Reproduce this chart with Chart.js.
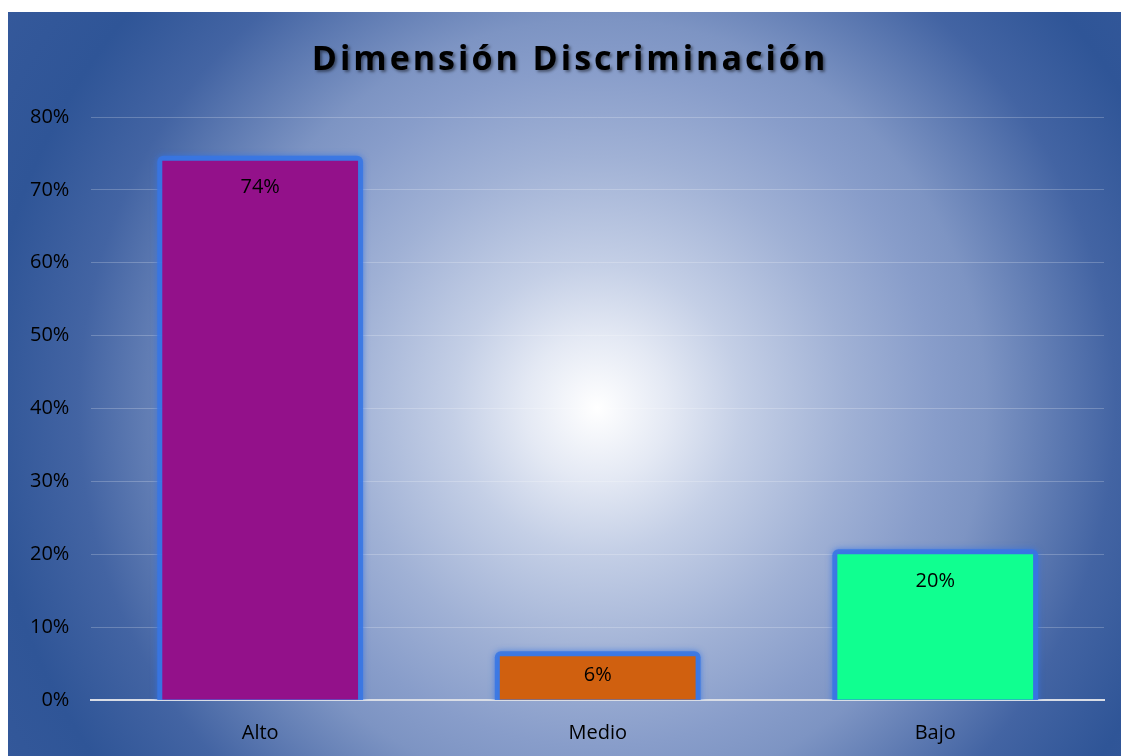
<!DOCTYPE html>
<html>
<head>
<meta charset="utf-8">
<script src="https://cdn.jsdelivr.net/npm/chart.js@4.4.1/dist/chart.umd.min.js"></script>
<style>
  html, body { margin: 0; padding: 0; background: #ffffff; }
  #wrap { position: absolute; left: 8px; top: 12px; width: 1113px; height: 744px; }
</style>
</head>
<body>
<div id="wrap"><canvas id="c" width="1113" height="744"></canvas></div>
<script>
const titleText = "Dimensión Discriminación";
const categories = ["Alto", "Medio", "Bajo"];
const values = [74, 6, 20];
const barColors = ["#93118A", "#D0600F", "#10FF90"];
const yTicks = [0, 10, 20, 30, 40, 50, 60, 70, 80];

const FONT = "'Open Sans', 'Noto Sans', sans-serif";

const bgPlugin = {
  id: 'bg',
  beforeDraw(chart) {
    const ctx = chart.ctx;
    const w = chart.width, h = chart.height;
    const cx = 589, cy = 396, R = 720;
    const g = ctx.createRadialGradient(cx, cy, 0, cx, cy, R);
    g.addColorStop(0.00, '#ffffff');
    g.addColorStop(0.10, '#e4e9f4');
    g.addColorStop(0.20, '#c4cfe6');
    g.addColorStop(0.35, '#a0b1d5');
    g.addColorStop(0.47, '#889dca');
    g.addColorStop(0.54, '#7d94c3');
    g.addColorStop(0.72, '#4364a3');
    g.addColorStop(0.85, '#2f5597');
    g.addColorStop(1.00, '#35599b');
    ctx.save();
    ctx.fillStyle = g;
    ctx.fillRect(0, 0, w, h);
    ctx.restore();
  }
};

const glowPlugin = {
  id: 'glow',
  beforeDatasetsDraw(chart) {
    const ctx = chart.ctx;
    const meta = chart.getDatasetMeta(0);
    const area = chart.chartArea;
    ctx.save();
    ctx.beginPath();
    ctx.rect(0, 0, chart.width, area.bottom);
    ctx.clip();
    meta.data.forEach(el => {
      const p = el.getProps(['x', 'y', 'base', 'width'], true);
      const e = 5;
      const left = p.x - p.width / 2 - e;
      const right = p.x + p.width / 2 + e;
      const top = p.y - e;
      ctx.shadowColor = 'rgba(50,115,230,0.9)';
      ctx.shadowBlur = 6;
      ctx.fillStyle = 'rgba(55,118,228,0.85)';
      ctx.beginPath();
      ctx.roundRect(left, top, right - left, p.base - top + 8, 6);
      ctx.fill();
    });
    ctx.restore();
  }
};

const labelPlugin = {
  id: 'vlabels',
  afterDatasetsDraw(chart) {
    const ctx = chart.ctx;
    const meta = chart.getDatasetMeta(0);
    ctx.save();
    ctx.font = '20px ' + FONT;
    ctx.fillStyle = '#000000';
    ctx.textAlign = 'center';
    ctx.textBaseline = 'middle';
    meta.data.forEach((el, i) => {
      const p = el.getProps(['x', 'y', 'base'], true);
      const hgt = p.base - p.y;
      const off = Math.min(27, hgt / 2 - 3);
      ctx.fillText(values[i] + '%', p.x, p.y + off);
    });
    ctx.restore();
  }
};

const titlePlugin = {
  id: 'ttl',
  afterDraw(chart) {
    const ctx = chart.ctx;
    ctx.save();
    ctx.font = 'bold 34px ' + FONT;
    if ('letterSpacing' in ctx) ctx.letterSpacing = '3px';
    ctx.textAlign = 'center';
    ctx.textBaseline = 'middle';
    ctx.shadowColor = 'rgba(0,0,0,0.45)';
    ctx.shadowOffsetX = 2;
    ctx.shadowOffsetY = 2;
    ctx.shadowBlur = 3;
    ctx.fillStyle = '#000000';
    ctx.fillText(titleText, 562, 48);
    ctx.restore();
  }
};

new Chart(document.getElementById('c'), {
  type: 'bar',
  data: {
    labels: categories,
    datasets: [{
      data: values,
      backgroundColor: barColors,
      borderWidth: 0,
      barPercentage: 0.58,
      categoryPercentage: 1.0
    }]
  },
  options: {
    responsive: false,
    animation: false,
    devicePixelRatio: 1,
    layout: { padding: { top: 105, left: 0, right: 17, bottom: -10 } },
    plugins: {
      legend: { display: false },
      title: { display: false },
      tooltip: { enabled: false }
    },
    scales: {
      x: {
        grid: { display: false, drawTicks: false },
        border: { display: true, color: '#d9dde6', width: 2 },
        ticks: { color: '#000000', font: { family: FONT, size: 20 }, padding: 21 }
      },
      y: {
        min: 0,
        max: 80,
        afterBuildTicks(scale) { scale.ticks = yTicks.map(v => ({ value: v })); },
        grid: { color: 'rgba(255,255,255,0.22)', lineWidth: 1, drawTicks: false },
        border: { display: false },
        ticks: {
          color: '#000000',
          font: { family: FONT, size: 20 },
          padding: 22,
          callback: v => v + '%'
        }
      }
    }
  },
  plugins: [bgPlugin, glowPlugin, labelPlugin, titlePlugin]
});
</script>
</body>
</html>
